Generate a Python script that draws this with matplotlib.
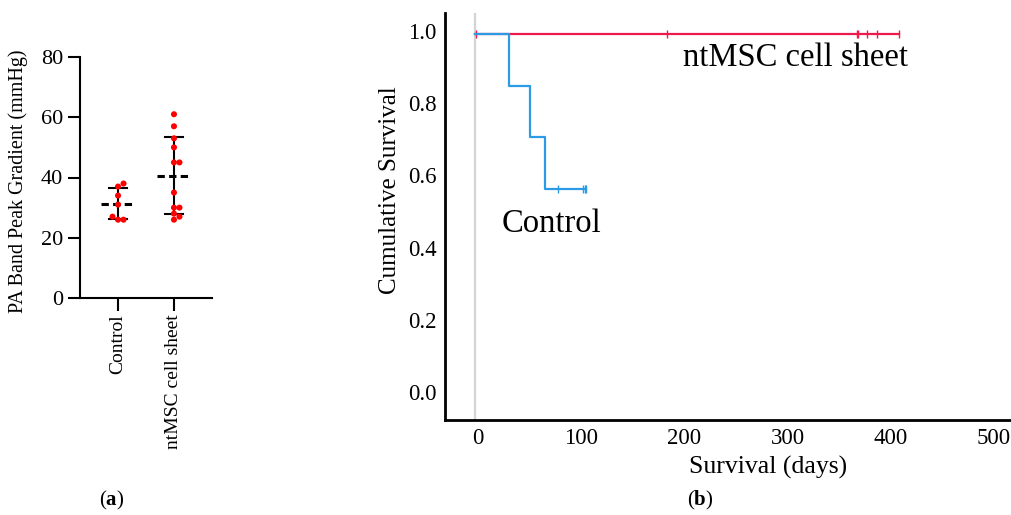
import numpy as np
import matplotlib
matplotlib.use("Agg")
import matplotlib.pyplot as plt
import matplotlib.transforms as mtransforms

# ---------------- data ----------------
groups = ["Control", "ntMSC cell sheet"]
control_gradient = [38, 37, 34, 31, 27, 26, 26]
ntmsc_gradient = [61, 57, 53, 50, 45, 45, 35, 30, 30, 28, 27, 26]
gradient_ticks = [0, 20, 40, 60, 80]

control_event_days = [33, 53, 68]
control_censor_days = [80, 105, 107, 108]
ntmsc_event_days = []
ntmsc_censor_days = [1, 186, 370, 371, 380, 390, 411]
survival_xticks = [0, 100, 200, 300, 400, 500]
survival_yticks = [0.0, 0.2, 0.4, 0.6, 0.8, 1.0]

plt.rcParams["font.family"] = ["Liberation Serif", "DejaVu Serif"]
plt.rcParams["mathtext.fontset"] = "custom"
plt.rcParams["mathtext.rm"] = "Liberation Serif"
plt.rcParams["mathtext.bf"] = "Liberation Serif:bold"

W, H = 1012, 515
fig = plt.figure(figsize=(W / 100, H / 100), dpi=100)

# ---------------- panel (a) ----------------
axa = fig.add_axes([80 / W, 1 - 298 / H, 132 / W, (298 - 57) / H])
axa.set_xlim(-0.68, 1.68)
axa.set_ylim(0, 80)
for s in ["top", "right"]:
    axa.spines[s].set_visible(False)
for s in ["left", "bottom"]:
    axa.spines[s].set_linewidth(1.5)

px_per_x = 132 / (1.68 + 0.68)
px_per_y = (298 - 57) / 80.0
dot_d = 5.0


def swarm(vals, center):
    placed = []
    xs = []
    step = 5.5 / px_per_x
    for v in vals:
        cands = [0]
        for i in range(1, 10):
            cands += [i * step, -i * step]
        for c in cands:
            ok = True
            for (px, py) in placed:
                dx = (c - px) * px_per_x
                dy = (v - py) * px_per_y
                if dx * dx + dy * dy < (dot_d * 0.95) ** 2:
                    ok = False
                    break
            if ok:
                placed.append((c, v))
                xs.append(center + c)
                break
    return xs


for i, vals in enumerate([control_gradient, ntmsc_gradient]):
    vals_sorted = sorted(vals)
    xs = swarm(vals_sorted, i)
    m = np.mean(vals)
    sd = np.std(vals, ddof=1)
    axa.plot([i, i], [m - sd, m + sd], color="black", lw=1.5, zorder=2)
    axa.plot([i - 0.165, i + 0.165], [m - sd, m - sd], color="black", lw=1.5, zorder=2)
    axa.plot([i - 0.165, i + 0.165], [m + sd, m + sd], color="black", lw=1.5, zorder=2)
    axa.plot([i - 0.31, i + 0.31], [m, m], color="black", lw=2.2,
             dashes=(2.4, 1.4), zorder=2)
    axa.scatter(xs, vals_sorted, s=19, color="#ff0000", edgecolors="none", zorder=3)

axa.set_xticks([0, 1])
axa.set_xticklabels(groups, rotation=90, fontsize=14)
axa.set_yticks(gradient_ticks)
axa.tick_params(axis="both", direction="out", length=9, width=1.5, labelsize=16, pad=3)
axa.tick_params(axis="x", labelsize=14, pad=3)
axa.set_ylabel("PA Band Peak Gradient (mmHg)", fontsize=14.5)
axa.yaxis.set_label_coords(-62 / 132, 0.485)
axa.yaxis.label.set_va("center")

fig.text(112 / W, 1 - 500 / H, r"($\mathbf{a}$)", ha="center", va="center", fontsize=15)
fig.text(700 / W, 1 - 500 / H, r"($\mathbf{b}$)", ha="center", va="center", fontsize=15)

# ---------------- panel (b) ----------------
axb = fig.add_axes([445 / W, 1 - 420 / H, (W - 445) / W, (420 - 13) / H])
x0px, pxday = 475.0, 1.032
axb.set_xlim(-(x0px - 445) / pxday, (W - x0px) / pxday)
y0px, pxunit = 395.0, 361.0
axb.set_ylim(-(420 - y0px) / pxunit, 1 + (y0px - pxunit - 13) / pxunit)
for s in ["top", "right"]:
    axb.spines[s].set_visible(False)
for s in ["left", "bottom"]:
    axb.spines[s].set_linewidth(2.0)

axb.axvline(0, color="#d4d4d4", lw=1.6, zorder=1)


def km(events, censors):
    times = sorted(set(events) | set(censors))
    n = len(events) + len(censors)
    s = 1.0
    xs, ys = [0.0], [1.0]
    cens_pts = []
    for t in times:
        d = events.count(t)
        c = censors.count(t)
        if d:
            s *= (n - d) / n
        xs.append(t)
        ys.append(s)
        if c:
            cens_pts.append((t, s))
        n -= d + c
    return xs, ys, cens_pts


for ev, ce, col in [(ntmsc_event_days, ntmsc_censor_days, "#ee1a4c"),
                    (control_event_days, control_censor_days, "#2b9be6")]:
    xs, ys, cp = km(ev, ce)
    axb.step(xs, ys, where="post", color=col, lw=1.6, zorder=3)
    axb.plot([p[0] for p in cp], [p[1] for p in cp], ls="none", marker="|",
             markersize=6, markeredgewidth=1.0, color=col, zorder=3)

axb.set_xticks(survival_xticks)
axb.set_yticks(survival_yticks)
axb.set_yticklabels([f"{v:.1f}" for v in survival_yticks])
axb.tick_params(axis="both", length=0, labelsize=16.5, pad=6)
for lab in axb.get_xticklabels():
    lab.set_transform(lab.get_transform() + mtransforms.ScaledTranslation(3 / 100, 0, fig.dpi_scale_trans))
for lab in axb.get_yticklabels():
    lab.set_transform(lab.get_transform() + mtransforms.ScaledTranslation(0, 3 / 100, fig.dpi_scale_trans))

axb.set_xlabel("Survival (days)", fontsize=18.5)
axb.xaxis.set_label_coords((768 - 445) / (W - 445), -(467 - 420) / (420 - 13), transform=axb.transAxes)
axb.xaxis.label.set_va("center")
axb.set_ylabel("Cumulative Survival", fontsize=18)
axb.yaxis.set_label_coords(-(445 - 390) / (W - 445), (420 - 190) / (420 - 13))
axb.yaxis.label.set_va("center")

axb.text(311, 0.911, "ntMSC cell sheet", ha="center", va="baseline", fontsize=23.5)
axb.text(74, 0.4515, "Control", ha="center", va="baseline", fontsize=23.5)

fig.savefig("out.png", dpi=100)
